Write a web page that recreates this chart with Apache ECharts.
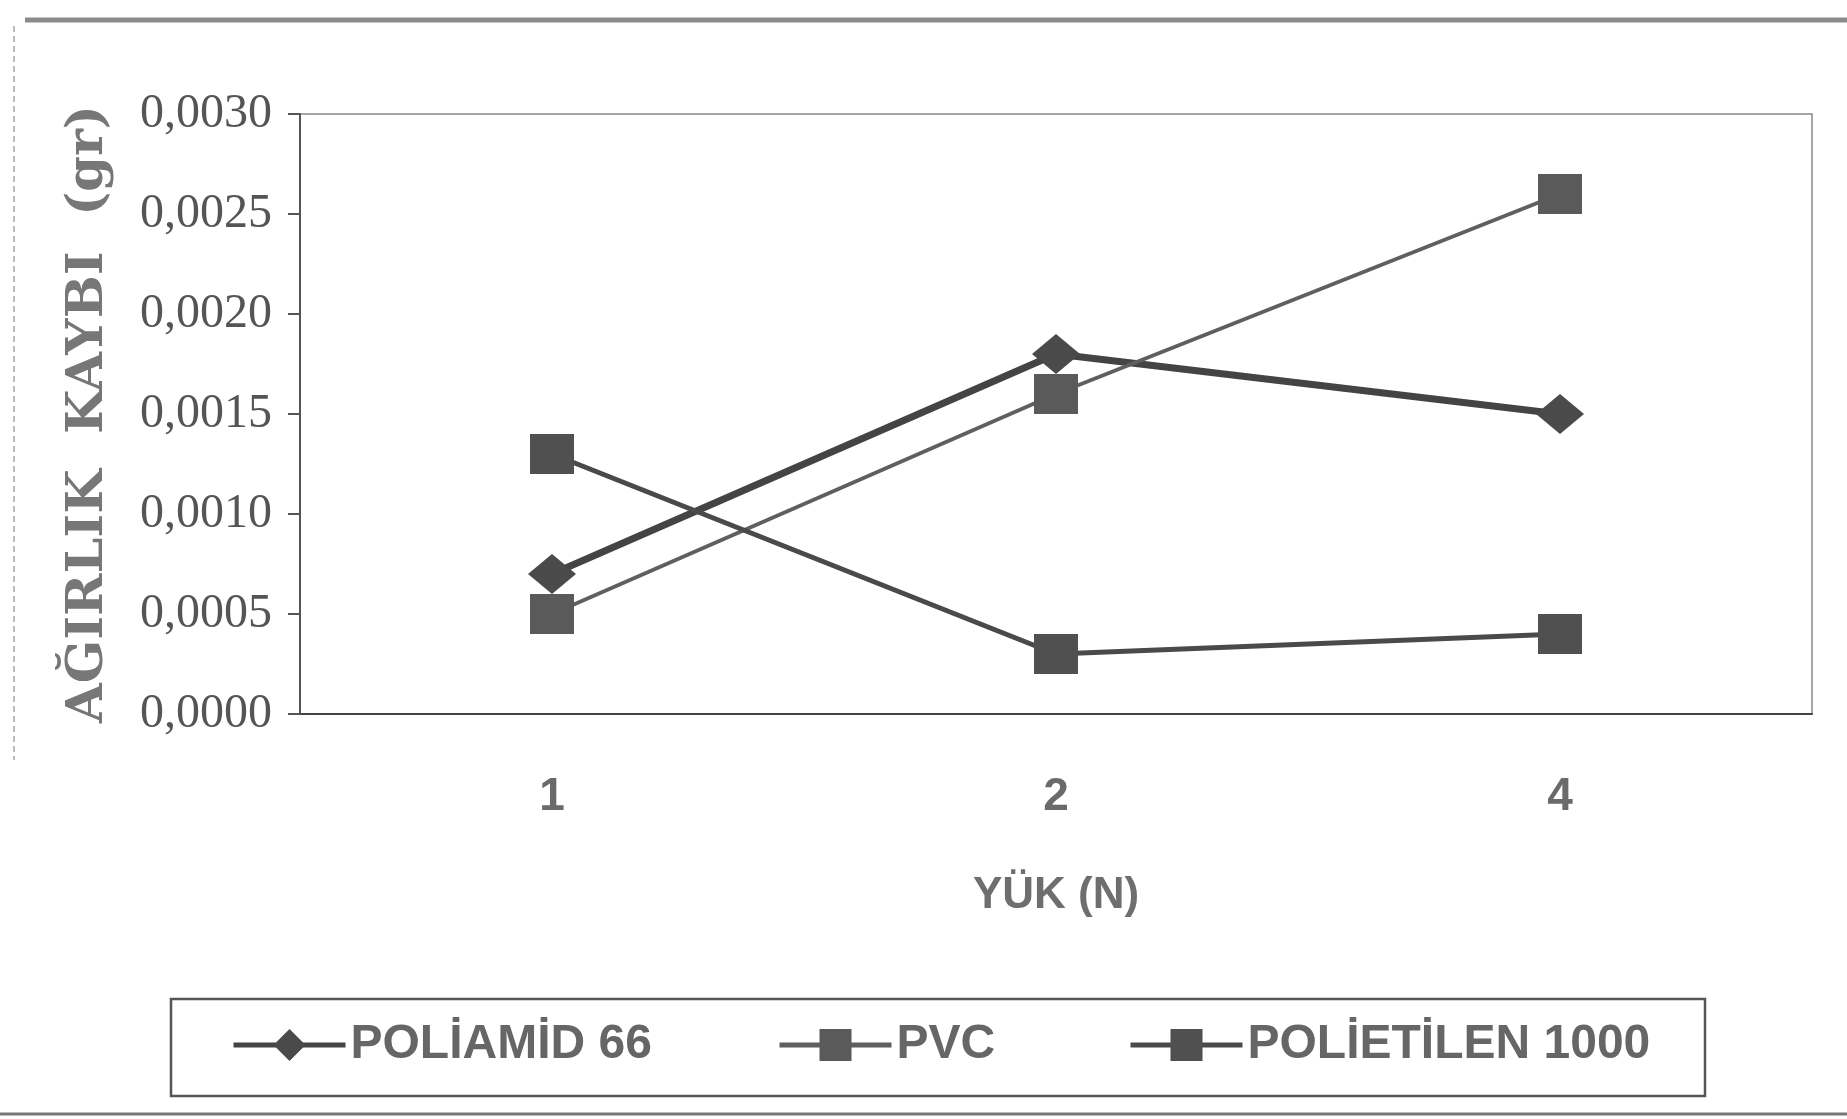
<!DOCTYPE html>
<html>
<head>
<meta charset="utf-8">
<script src="https://cdn.jsdelivr.net/npm/echarts@6/dist/echarts.min.js"></script>
<style>
  html, body { margin: 0; padding: 0; background: #fff; }
  #chart { width: 1847px; height: 1119px; }
</style>
</head>
<body>
<div id="chart"></div>
<script>
// yük (N)
const loads = ["1", "2", "4"];
// ağırlık kaybı (gr)
const poliamid66 = [0.0007, 0.0018, 0.0015];
const pvc = [0.0005, 0.0016, 0.0026];
const polietilen1000 = [0.0013, 0.0003, 0.0004];
const seriesNames = ["POLİAMİD 66", "PVC", "POLİETİLEN 1000"];

const gray = "#4a4a4a";
const serif = "'Liberation Serif', 'DejaVu Serif', serif";
const sans = "'Liberation Sans Narrow', 'Liberation Sans', Arial, sans-serif";

const myChart = echarts.init(document.getElementById("chart"));

function makeLegend(name, left) {
  return {
    data: [name],
    left: left,
    top: 1016,
    itemWidth: 112,
    itemHeight: 40,
    lineStyle: { width: 5 },
    textStyle: {
      color: "#666",
      fontSize: 48,
      fontWeight: "bold",
      fontFamily: sans
    }
  };
}

const option = {
  backgroundColor: "#fff",
  animation: false,
  graphic: [
    {
      type: "line",
      shape: { x1: 25, y1: 20, x2: 1847, y2: 20 },
      style: { stroke: "#8a8a8a", lineWidth: 5 }
    },
    {
      type: "line",
      shape: { x1: 14, y1: 26, x2: 14, y2: 760 },
      style: { stroke: "#bbb", lineWidth: 2, lineDash: [6, 4] }
    },
    {
      type: "rect",
      shape: { x: 171, y: 999, width: 1534, height: 97 },
      style: { fill: "none", stroke: "#555", lineWidth: 2.5 }
    },
    {
      type: "line",
      shape: { x1: 0, y1: 1114, x2: 1847, y2: 1114 },
      style: { stroke: "#777", lineWidth: 3 }
    }
  ],
  legend: [
    makeLegend(seriesNames[0], 226),
    makeLegend(seriesNames[1], 772),
    makeLegend(seriesNames[2], 1123)
  ],
  grid: {
    left: 300,
    right: 35,
    top: 114,
    bottom: 405,
    show: true,
    borderColor: "#888",
    borderWidth: 1.5
  },
  xAxis: {
    type: "category",
    data: loads,
    name: "YÜK (N)",
    nameLocation: "middle",
    nameGap: 160,
    nameTextStyle: {
      color: "#6e6e6e",
      fontSize: 44,
      fontWeight: "bold",
      fontFamily: sans
    },
    axisLine: { lineStyle: { color: "#444", width: 2 } },
    axisTick: { length: 14, lineStyle: { color: "#444", width: 2 } },
    axisLabel: {
      margin: 60,
      color: "#6a6a6a",
      fontSize: 46,
      fontWeight: "bold",
      fontFamily: sans
    }
  },
  yAxis: {
    type: "value",
    min: 0,
    max: 0.003,
    interval: 0.0005,
    name: "AĞIRLIK  KAYBI  (gr)",
    nameLocation: "middle",
    nameRotate: 90,
    nameGap: 186,
    nameTextStyle: {
      color: "#777",
      fontSize: 51,
      fontWeight: "bold",
      fontFamily: "'DejaVu Serif', serif"
    },
    splitLine: { show: false },
    axisLine: { show: true, lineStyle: { color: "#555", width: 2 } },
    axisTick: { show: true, length: 12, lineStyle: { color: "#555", width: 2 } },
    axisLabel: {
      margin: 28,
      color: "#555",
      fontSize: 48,
      fontFamily: serif,
      formatter: function(value) {
        return value.toFixed(4).replace(".", ",");
      }
    }
  },
  series: [
    {
      name: seriesNames[0],
      type: "line",
      data: poliamid66,
      symbol: "diamond",
      symbolSize: [48, 40],
      itemStyle: { color: gray },
      lineStyle: { color: "#444", width: 7 }
    },
    {
      name: seriesNames[1],
      type: "line",
      data: pvc,
      symbol: "rect",
      symbolSize: [44, 40],
      itemStyle: { color: "#5a5a5a" },
      lineStyle: { color: "#5f5f5f", width: 4 }
    },
    {
      name: seriesNames[2],
      type: "line",
      data: polietilen1000,
      symbol: "rect",
      symbolSize: [44, 40],
      itemStyle: { color: "#505050" },
      lineStyle: { color: "#4a4a4a", width: 5 }
    }
  ]
};

myChart.setOption(option);
</script>
</body>
</html>
